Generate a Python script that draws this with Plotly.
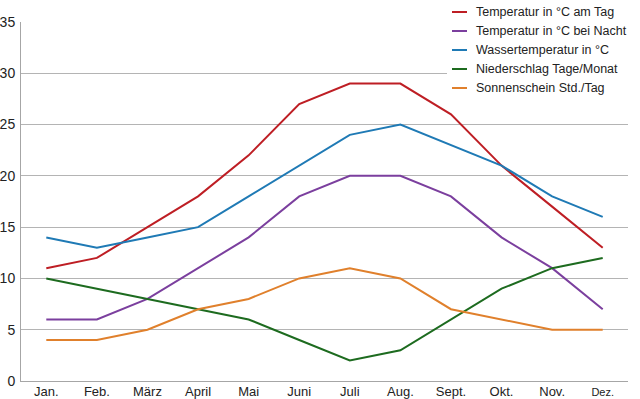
import plotly.graph_objects as go

months = ["Jan.", "Feb.", "März", "April", "Mai", "Juni", "Juli", "Aug.", "Sept.", "Okt.", "Nov.", "Dez."]
temp_tag = [11, 12, 15, 18, 22, 27, 29, 29, 26, 21, 17, 13]
temp_nacht = [6, 6, 8, 11, 14, 18, 20, 20, 18, 14, 11, 7]
wasser = [14, 13, 14, 15, 18, 21, 24, 25, 23, 21, 18, 16]
niederschlag = [10, 9, 8, 7, 6, 4, 2, 3, 6, 9, 11, 12]
sonne = [4, 4, 5, 7, 8, 10, 11, 10, 7, 6, 5, 5]
y_ticks = [0, 5, 10, 15, 20, 25, 30, 35]

series = [
    ("Temperatur in °C am Tag", temp_tag, "#be1e24"),
    ("Temperatur in °C bei Nacht", temp_nacht, "#7b3f9e"),
    ("Wassertemperatur in °C", wasser, "#1f7ab5"),
    ("Niederschlag Tage/Monat", niederschlag, "#1d6b1f"),
    ("Sonnenschein Std./Tag", sonne, "#e0802c"),
]

W, H = 640, 399
# plot area in page pixels: x 21..628, y 22..381
L, T = 21, 22
R = W - 628
B = H - 381
pw, ph = W - L - R, H - T - B

def px_x(px):
    return (px - L) / pw

def px_y(py):
    return (H - B - py) / ph

fig = go.Figure()
for name, vals, col in series:
    fig.add_trace(go.Scatter(x=months, y=vals, name=name, mode="lines",
                             line=dict(color=col, width=2), showlegend=False))

ticktext = [m if m != "Dez." else "<span style='font-size:11px'>Dez.</span>" for m in months]

shapes = [dict(type="rect", xref="paper", yref="paper",
               x0=px_x(447), x1=px_x(660), y0=px_y(97), y1=px_y(-5),
               fillcolor="white", line=dict(width=0), layer="above")]
annotations = []
for i, (name, vals, col) in enumerate(series):
    py = 12 + i * 19
    shapes.append(dict(type="line", xref="paper", yref="paper",
                       x0=px_x(452), x1=px_x(467), y0=px_y(py), y1=px_y(py),
                       line=dict(color=col, width=2), layer="above"))
    annotations.append(dict(xref="paper", yref="paper", x=px_x(474), y=px_y(py),
                            text=name, showarrow=False, xanchor="left", yanchor="middle",
                            font=dict(size=12.5, color="#222222", family="Liberation Sans, Arial, sans-serif")))

fig.update_layout(
    width=W, height=H,
    margin=dict(l=L, r=R, t=T, b=B),
    plot_bgcolor="white", paper_bgcolor="white",
    font=dict(family="Liberation Sans, Arial, sans-serif", size=13, color="#222222"),
    shapes=shapes, annotations=annotations,
    showlegend=False,
)
fig.update_xaxes(type="category", tickvals=months, ticktext=ticktext, automargin=False,
                 showgrid=False, showline=True, linecolor="#a6a6a6", linewidth=1,
                 ticks="", tickfont=dict(size=13), range=[-0.5, 11.5], ticklabelstandoff=-2)
fig.update_yaxes(range=[0, 35], tickvals=y_ticks, showgrid=True, gridcolor="#b4b4b4", automargin=False,
                 gridwidth=1, showline=True, linecolor="#a6a6a6", linewidth=1,
                 ticks="", tickfont=dict(size=14), zeroline=False, ticklabelstandoff=2)

fig.write_html("out.html", config={"displayModeBar": False},
               post_script="document.body.style.margin='0';document.body.style.padding='0';"
                           "document.body.style.overflow='hidden';window.scrollTo(0,0);")
